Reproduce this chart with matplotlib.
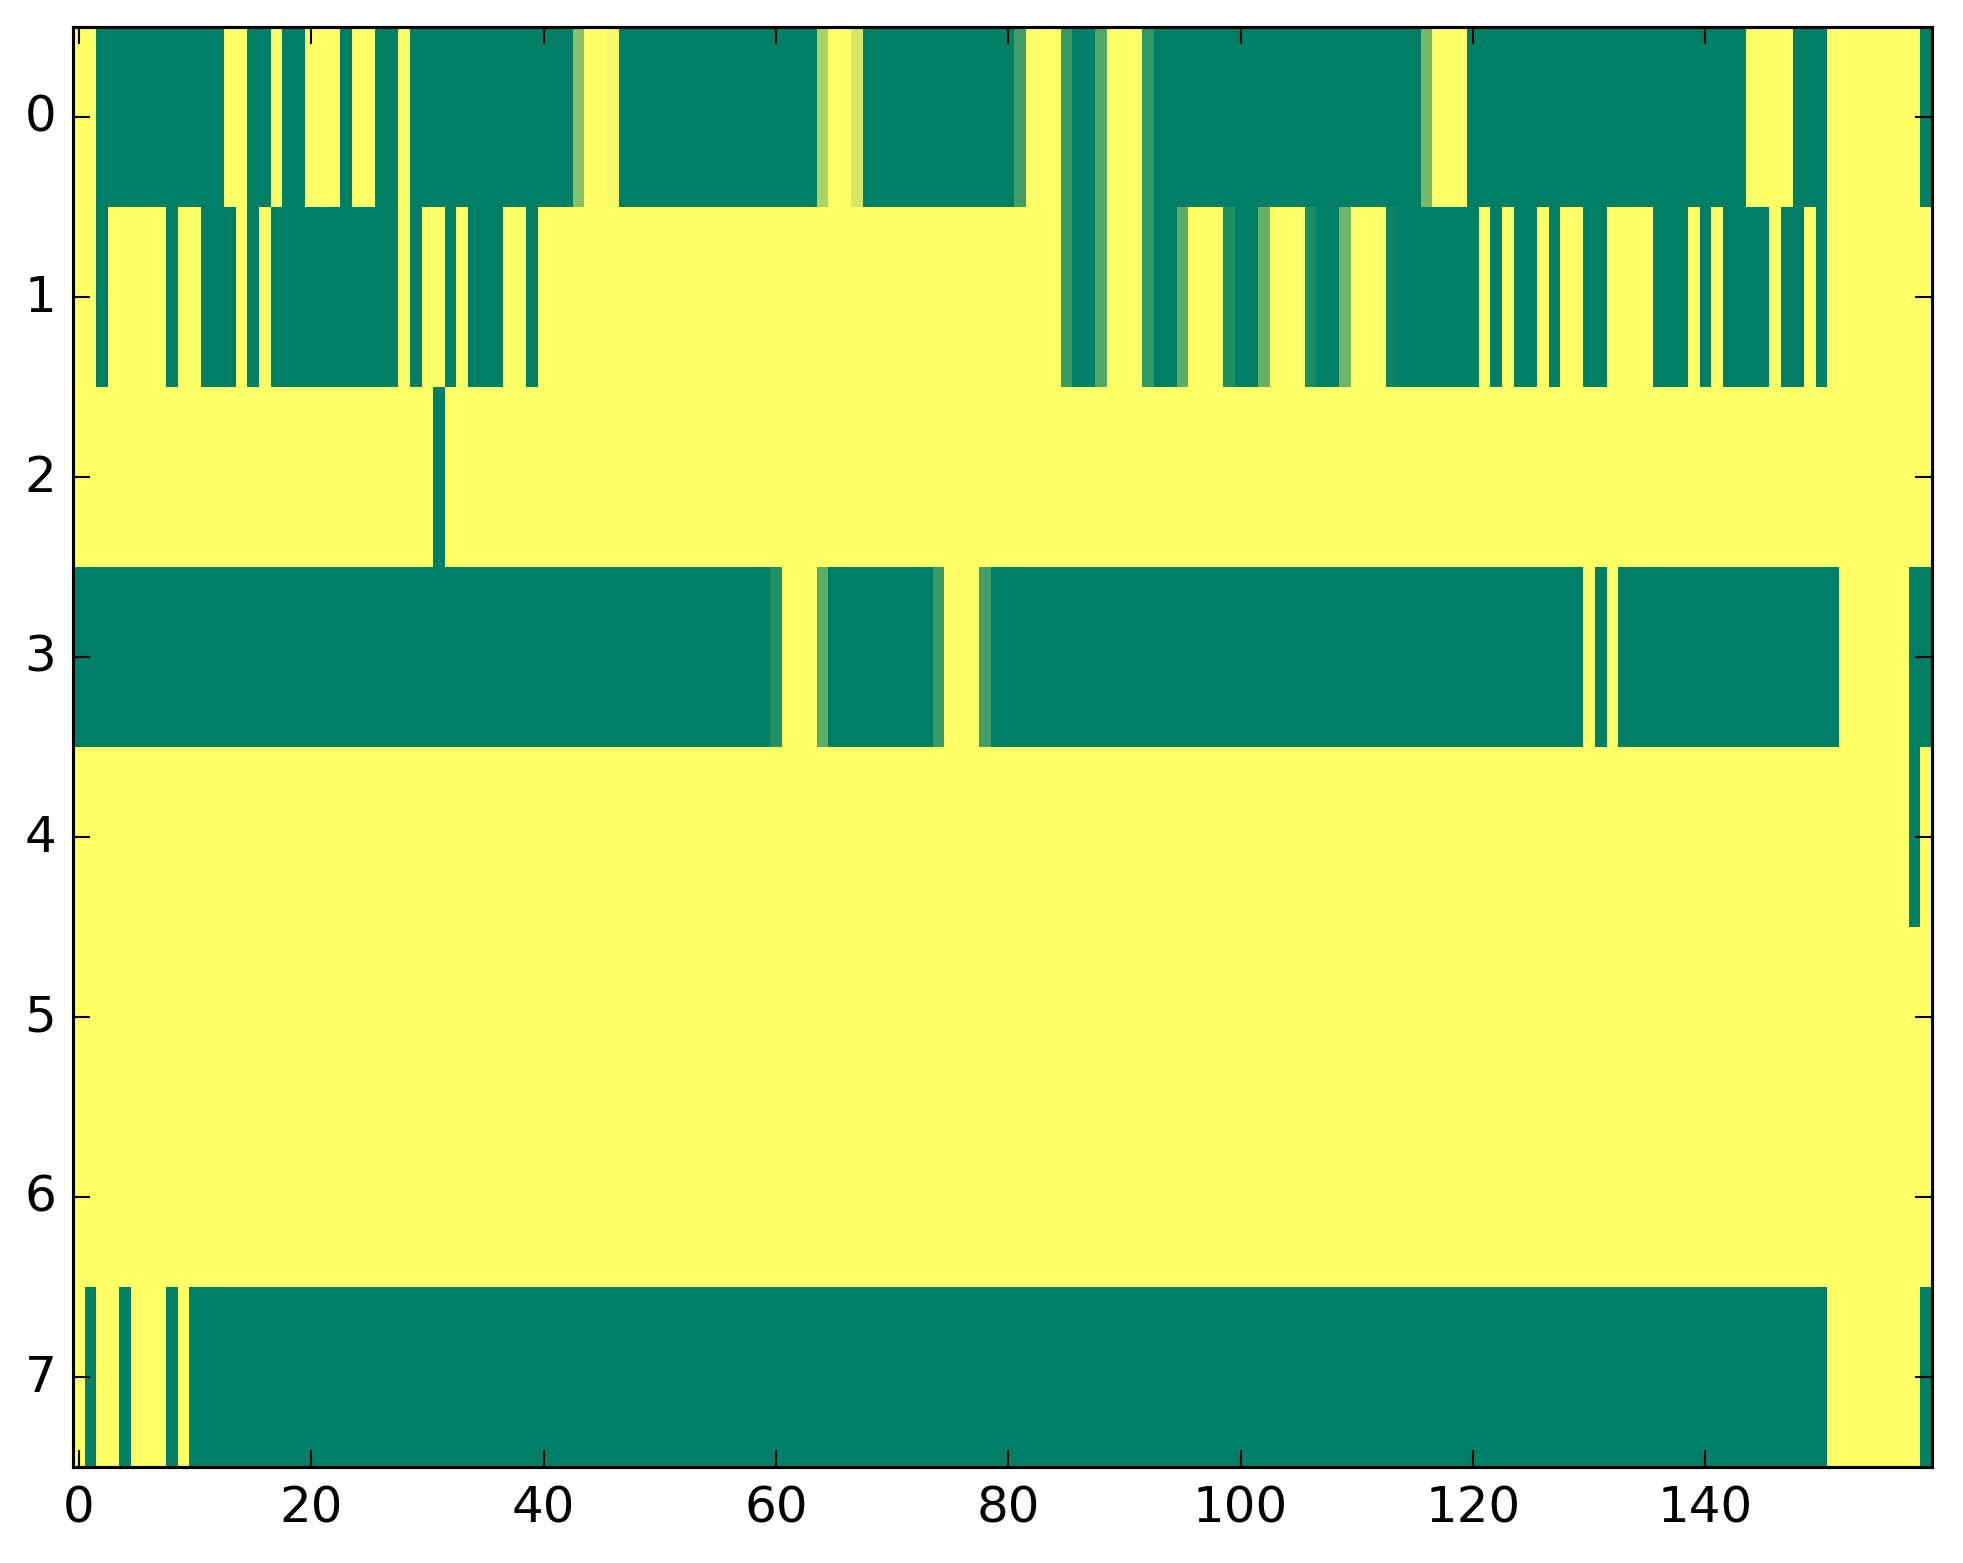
import numpy as np
import matplotlib
matplotlib.use('Agg')
import matplotlib.pyplot as plt

plt.style.use('classic')
plt.rcParams['axes.linewidth'] = 0.75

# one list per row of the matrix, 160 columns each (1 = yellow, 0 = green)
row0 = [1, 1, 0, 0, 0, 0, 0, 0, 0, 0, 0, 0, 0, 1, 1, 0, 0, 1, 0, 0,
        1, 1, 1, 0, 1, 1, 0, 0, 1, 0, 0, 0, 0, 0, 0, 0, 0, 0, 0, 0,
        0, 0, 0, .53, 1, 1, .96, 0, 0, 0, 0, 0, 0, 0, 0, 0, 0, 0, 0, 0,
        0, 0, 0, 0, .66, 1, 1, .83, 0, 0, 0, 0, 0, 0, 0, 0, 0, 0, 0, 0,
        0, .25, 1, 1, 1, .22, 0, 0, .31, 1, 1, 1, .19, 0, 0, 0, 0, 0, 0, 0,
        0, 0, 0, 0, 0, 0, 0, 0, 0, 0, 0, 0, 0, 0, 0, 0, .47, 1, 1, 1,
        0, 0, 0, 0, 0, 0, 0, 0, 0, 0, 0, 0, 0, 0, 0, 0, 0, 0, 0, 0,
        0, 0, 0, 0, 1, 1, 1, 1, 0, 0, 0, 1, 1, 1, 1, 1, 1, 1, 1, 0]

row1 = [1, 1, 0, 1, 1, 1, 1, 1, 0, 1, 1, 0, 0, 0, 1, 0, 1, 0, 0, 0,
        0, 0, 0, 0, 0, 0, 0, 0, 1, 0, 1, 1, 0, 1, 0, 0, 0, 1, 1, 0,
        1, 1, 1, 1, 1, 1, 1, 1, 1, 1, 1, 1, 1, 1, 1, 1, 1, 1, 1, 1,
        1, 1, 1, 1, 1, 1, 1, 1, 1, 1, 1, 1, 1, 1, 1, 1, 1, 1, 1, 1,
        1, 1, 1, 1, 1, .22, 0, 0, .31, 1, 1, 1, .19, 0, 0, .35, 1, 1, 1, .12,
        0, 0, .39, 1, 1, 1, .10, 0, 0, .43, 1, 1, 1, .05, 0, 0, 0, 0, 0, 0,
        0, 1, 0, 1, 0, 0, 1, 0, 1, 1, 0, 0, 1, 1, 1, 1, 0, 0, 0, 1,
        0, 1, 0, 0, 0, 0, 1, 0, 0, 1, 0, 1, 1, 1, 1, 1, 1, 1, 1, 1]

row2 = [1, 1, 1, 1, 1, 1, 1, 1, 1, 1, 1, 1, 1, 1, 1, 1, 1, 1, 1, 1,
        1, 1, 1, 1, 1, 1, 1, 1, 1, 1, 1, 0, 1, 1, 1, 1, 1, 1, 1, 1,
        1, 1, 1, 1, 1, 1, 1, 1, 1, 1, 1, 1, 1, 1, 1, 1, 1, 1, 1, 1,
        1, 1, 1, 1, 1, 1, 1, 1, 1, 1, 1, 1, 1, 1, 1, 1, 1, 1, 1, 1,
        1, 1, 1, 1, 1, 1, 1, 1, 1, 1, 1, 1, 1, 1, 1, 1, 1, 1, 1, 1,
        1, 1, 1, 1, 1, 1, 1, 1, 1, 1, 1, 1, 1, 1, 1, 1, 1, 1, 1, 1,
        1, 1, 1, 1, 1, 1, 1, 1, 1, 1, 1, 1, 1, 1, 1, 1, 1, 1, 1, 1,
        1, 1, 1, 1, 1, 1, 1, 1, 1, 1, 1, 1, 1, 1, 1, 1, 1, 1, 1, 1]

row3 = [0, 0, 0, 0, 0, 0, 0, 0, 0, 0, 0, 0, 0, 0, 0, 0, 0, 0, 0, 0,
        0, 0, 0, 0, 0, 0, 0, 0, 0, 0, 0, 0, 0, 0, 0, 0, 0, 0, 0, 0,
        0, 0, 0, 0, 0, 0, 0, 0, 0, 0, 0, 0, 0, 0, 0, 0, 0, 0, 0, 0,
        .13, 1, 1, 1, .36, 0, 0, 0, 0, 0, 0, 0, 0, 0, .22, 1, 1, 1, .25, 0,
        0, 0, 0, 0, 0, 0, 0, 0, 0, 0, 0, 0, 0, 0, 0, 0, 0, 0, 0, 0,
        0, 0, 0, 0, 0, 0, 0, 0, 0, 0, 0, 0, 0, 0, 0, 0, 0, 0, 0, 0,
        0, 0, 0, 0, 0, 0, 0, 0, 0, 0, 1, 0, 1, 0, 0, 0, 0, 0, 0, 0,
        0, 0, 0, 0, 0, 0, 0, 0, 0, 0, 0, 0, 1, 1, 1, 1, 1, 1, 0, 0]

row4 = [1, 1, 1, 1, 1, 1, 1, 1, 1, 1, 1, 1, 1, 1, 1, 1, 1, 1, 1, 1,
        1, 1, 1, 1, 1, 1, 1, 1, 1, 1, 1, 1, 1, 1, 1, 1, 1, 1, 1, 1,
        1, 1, 1, 1, 1, 1, 1, 1, 1, 1, 1, 1, 1, 1, 1, 1, 1, 1, 1, 1,
        1, 1, 1, 1, 1, 1, 1, 1, 1, 1, 1, 1, 1, 1, 1, 1, 1, 1, 1, 1,
        1, 1, 1, 1, 1, 1, 1, 1, 1, 1, 1, 1, 1, 1, 1, 1, 1, 1, 1, 1,
        1, 1, 1, 1, 1, 1, 1, 1, 1, 1, 1, 1, 1, 1, 1, 1, 1, 1, 1, 1,
        1, 1, 1, 1, 1, 1, 1, 1, 1, 1, 1, 1, 1, 1, 1, 1, 1, 1, 1, 1,
        1, 1, 1, 1, 1, 1, 1, 1, 1, 1, 1, 1, 1, 1, 1, 1, 1, 1, 0, 1]

row5 = [1, 1, 1, 1, 1, 1, 1, 1, 1, 1, 1, 1, 1, 1, 1, 1, 1, 1, 1, 1,
        1, 1, 1, 1, 1, 1, 1, 1, 1, 1, 1, 1, 1, 1, 1, 1, 1, 1, 1, 1,
        1, 1, 1, 1, 1, 1, 1, 1, 1, 1, 1, 1, 1, 1, 1, 1, 1, 1, 1, 1,
        1, 1, 1, 1, 1, 1, 1, 1, 1, 1, 1, 1, 1, 1, 1, 1, 1, 1, 1, 1,
        1, 1, 1, 1, 1, 1, 1, 1, 1, 1, 1, 1, 1, 1, 1, 1, 1, 1, 1, 1,
        1, 1, 1, 1, 1, 1, 1, 1, 1, 1, 1, 1, 1, 1, 1, 1, 1, 1, 1, 1,
        1, 1, 1, 1, 1, 1, 1, 1, 1, 1, 1, 1, 1, 1, 1, 1, 1, 1, 1, 1,
        1, 1, 1, 1, 1, 1, 1, 1, 1, 1, 1, 1, 1, 1, 1, 1, 1, 1, 1, 1]

row6 = [1, 1, 1, 1, 1, 1, 1, 1, 1, 1, 1, 1, 1, 1, 1, 1, 1, 1, 1, 1,
        1, 1, 1, 1, 1, 1, 1, 1, 1, 1, 1, 1, 1, 1, 1, 1, 1, 1, 1, 1,
        1, 1, 1, 1, 1, 1, 1, 1, 1, 1, 1, 1, 1, 1, 1, 1, 1, 1, 1, 1,
        1, 1, 1, 1, 1, 1, 1, 1, 1, 1, 1, 1, 1, 1, 1, 1, 1, 1, 1, 1,
        1, 1, 1, 1, 1, 1, 1, 1, 1, 1, 1, 1, 1, 1, 1, 1, 1, 1, 1, 1,
        1, 1, 1, 1, 1, 1, 1, 1, 1, 1, 1, 1, 1, 1, 1, 1, 1, 1, 1, 1,
        1, 1, 1, 1, 1, 1, 1, 1, 1, 1, 1, 1, 1, 1, 1, 1, 1, 1, 1, 1,
        1, 1, 1, 1, 1, 1, 1, 1, 1, 1, 1, 1, 1, 1, 1, 1, 1, 1, 1, 1]

row7 = [1, 0, 1, 1, 0, 1, 1, 1, 0, 1, 0, 0, 0, 0, 0, 0, 0, 0, 0, 0,
        0, 0, 0, 0, 0, 0, 0, 0, 0, 0, 0, 0, 0, 0, 0, 0, 0, 0, 0, 0,
        0, 0, 0, 0, 0, 0, 0, 0, 0, 0, 0, 0, 0, 0, 0, 0, 0, 0, 0, 0,
        0, 0, 0, 0, 0, 0, 0, 0, 0, 0, 0, 0, 0, 0, 0, 0, 0, 0, 0, 0,
        0, 0, 0, 0, 0, 0, 0, 0, 0, 0, 0, 0, 0, 0, 0, 0, 0, 0, 0, 0,
        0, 0, 0, 0, 0, 0, 0, 0, 0, 0, 0, 0, 0, 0, 0, 0, 0, 0, 0, 0,
        0, 0, 0, 0, 0, 0, 0, 0, 0, 0, 0, 0, 0, 0, 0, 0, 0, 0, 0, 0,
        0, 0, 0, 0, 0, 0, 0, 0, 0, 0, 0, 1, 1, 1, 1, 1, 1, 1, 1, 0]

xticks = [0, 20, 40, 60, 80, 100, 120, 140]
yticks = [0, 1, 2, 3, 4, 5, 6, 7]

grid = np.array([row0, row1, row2, row3, row4, row5, row6, row7], dtype=float)

W, H = 1963, 1564
fig = plt.figure(figsize=(W / 300, H / 300), dpi=300)
fig.patch.set_facecolor('white')
ax = fig.add_axes([73 / W, (H - 1468) / H, 1859 / W, 1440 / H])
ax.imshow(grid, cmap='summer', vmin=0, vmax=1, aspect='auto',
          interpolation='nearest')
ax.set_xticks(xticks)
ax.set_yticks(yticks)
ax.tick_params(labelsize=12)

fig.savefig('out.png', dpi=300, facecolor='white')
